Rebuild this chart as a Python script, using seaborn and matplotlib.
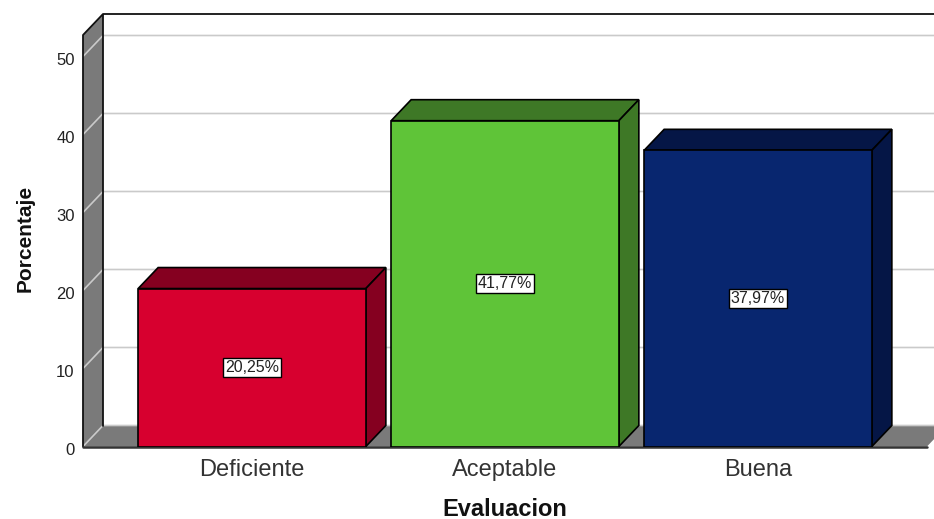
import matplotlib
matplotlib.use("Agg")
import matplotlib.pyplot as plt
from matplotlib.transforms import ScaledTranslation
import seaborn as sns

categories = ["Deficiente", "Aceptable", "Buena"]
porcentajes = [20.25, 41.77, 37.97]
etiquetas = ["20,25%", "41,77%", "37,97%"]
y_ticks = [0, 10, 20, 30, 40, 50]

front_colors = ["#D7002F", "#5FC438", "#08266F"]
side_colors = ["#850020", "#3E7826", "#051646"]
wall_color = "#7A7A7A"
grid_color = "#CACACA"

W, H = 934, 519
# pixel layout of the front plane
PX_LEFT, PX_BASE, PX_TOP = 83, 446.5, 14
PX_FIRST, PX_STEP, PX_UNIT = 252, 253, 7.8

# depth of the fake 3D box, in data units
DX = 20 / PX_STEP
DY = 21 / PX_UNIT

sns.set_theme(style="white")
plt.rcParams["font.family"] = ["Liberation Sans", "DejaVu Sans"]

fig = plt.figure(figsize=(W / 100, H / 100), dpi=100)
ax = fig.add_axes([PX_LEFT / W, (H - PX_BASE) / H, 1 - PX_LEFT / W, (PX_BASE - PX_TOP) / H])

sns.barplot(x=categories, y=porcentajes, hue=categories, palette=front_colors,
            width=0.9, saturation=1, edgecolor="black", linewidth=1.2,
            legend=False, zorder=4, ax=ax)

x0 = (PX_LEFT - PX_FIRST) / PX_STEP
x_end = (W - PX_FIRST) / PX_STEP
x_floor = (927 - PX_FIRST) / PX_STEP
y_top = (PX_BASE - PX_TOP) / PX_UNIT - DY
ax.set_xlim(x0, x_end)
ax.set_ylim(0, y_top + DY)

# left wall and floor
ax.fill([x0, x0 + DX, x0 + DX, x0], [0, DY, y_top + DY, y_top],
        facecolor=wall_color, edgecolor="none", zorder=1)
ax.fill([x0, x_floor, x_floor + DX, x0 + DX], [0, 0, DY, DY],
        facecolor=wall_color, edgecolor="none", zorder=1)

# gridlines run over the wall and along the back
for t in y_ticks:
    ax.plot([x0, x0 + DX, x_end + DX], [t, t + DY, t + DY], color=grid_color,
            lw=1.2, zorder=2, solid_joinstyle="miter")

# box outline
ax.plot([x0, x0, x0 + DX, x_end], [0, y_top, y_top + DY, y_top + DY],
        color="#111111", lw=1.3, zorder=3, clip_on=False)
ax.plot([x0 + DX, x0 + DX], [DY, y_top + DY], color="#111111", lw=1.3, zorder=3)
ax.plot([x0, x_floor], [0, 0], color="#333333", lw=1.8, zorder=3, clip_on=False)

# top and side faces of each bar
for bar, shade in zip(ax.patches, side_colors):
    left, right, top = bar.get_x(), bar.get_x() + bar.get_width(), bar.get_height()
    ax.fill([left, right, right + DX, left + DX], [top, top, top + DY, top + DY],
            facecolor=shade, edgecolor="black", linewidth=1.2, zorder=3.5)
    ax.fill([right, right + DX, right + DX, right], [0, DY, top + DY, top],
            facecolor=shade, edgecolor="black", linewidth=1.2, zorder=3.5)

for container, label in zip(ax.containers, etiquetas):
    ax.bar_label(container, labels=[label], label_type="center", fontsize=11.5,
                 color="#222222", zorder=6,
                 bbox=dict(boxstyle="square,pad=0.12", facecolor="white",
                           edgecolor="black", linewidth=1))

for side in ax.spines.values():
    side.set_visible(False)

ax.set_yticks(y_ticks)
ax.tick_params(axis="y", length=0, pad=6, labelsize=12, labelcolor="#222222")
ax.tick_params(axis="x", length=0, pad=9, labelsize=17, labelcolor="#333333")
# the value labels sit a touch below their ticks
shift = ScaledTranslation(0, -2 / 72, fig.dpi_scale_trans)
for lab in ax.get_yticklabels():
    lab.set_transform(lab.get_transform() + shift)

ax.set_xlabel("Evaluacion", fontsize=17, fontweight="bold", color="#111111")
ax.set_ylabel("Porcentaje", fontsize=15, fontweight="bold", color="#111111")
ax.xaxis.set_label_coords((505 - PX_LEFT) / (W - PX_LEFT), -(509 - PX_BASE) / (PX_BASE - PX_TOP))
ax.yaxis.set_label_coords((25 - PX_LEFT) / (W - PX_LEFT), (PX_BASE - 238) / (PX_BASE - PX_TOP))
ax.xaxis.label.set_va("center")
ax.yaxis.label.set_va("center")

fig.savefig("out.png", dpi=100)
